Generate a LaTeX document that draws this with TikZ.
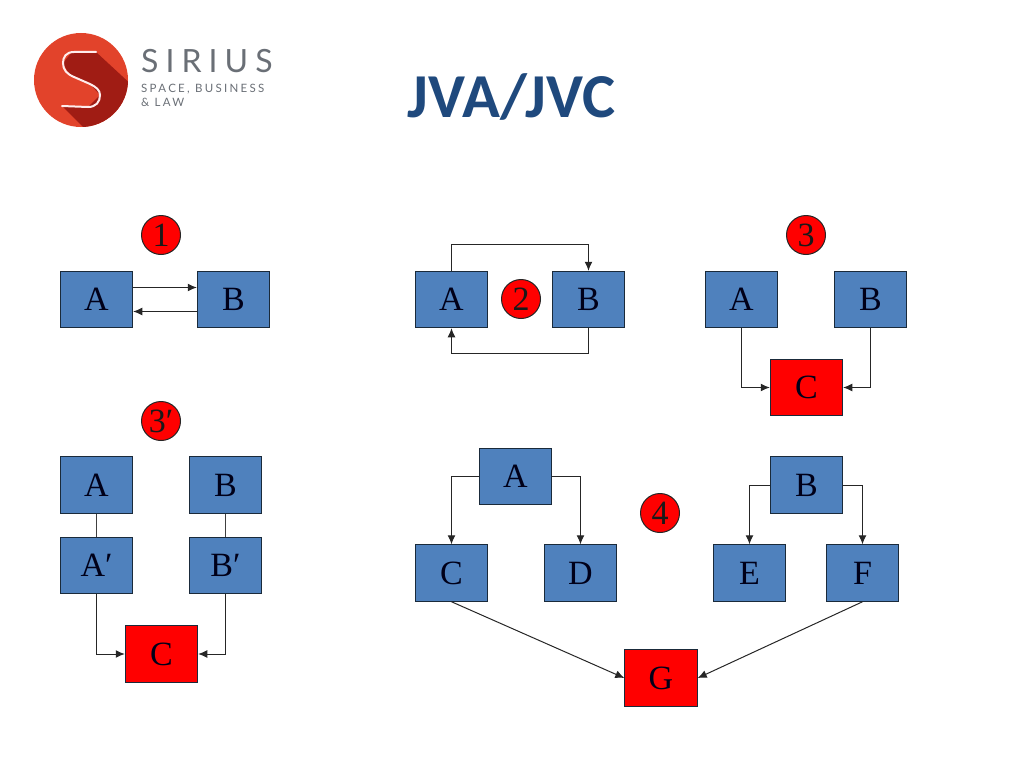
\documentclass[tikz,border=0pt]{standalone}
\usepackage{fontspec}
\setmainfont{Liberation Serif}
\newfontfamily\titlefont{Carlito}
\newfontfamily\logofont[LetterSpace=22]{Lato}
\newfontfamily\logosmall[LetterSpace=20]{Lato}
\usetikzlibrary{arrows.meta}
\definecolor{boxblue}{HTML}{4F81BD}
\definecolor{boxline}{HTML}{1A2A3A}
\definecolor{titleblue}{HTML}{1F497D}
\definecolor{logored}{HTML}{E2432B}
\definecolor{logodark}{HTML}{A01C14}
\definecolor{logogray}{HTML}{6A6F76}
\tikzset{
  x=1pt,y=-1pt,
  base/.style={draw=boxline,line width=1pt,minimum width=72.5pt,minimum height=56.5pt,inner sep=0pt,font=\fontsize{34}{34}\selectfont,text=black!90!blue},
  bluebox/.style={base,fill=boxblue},
  redbox/.style={base,fill=red},
  badge/.style={circle,draw=black!85,line width=1pt,fill=red,minimum size=39pt,inner sep=0pt,font=\fontsize{34}{34}\selectfont,text=black!90},
  conn/.style={draw=black!85,line width=1pt,-{Latex[length=9pt,width=8pt]}},
  plain/.style={draw=black!75,line width=1pt}
}
\begin{document}
\begin{tikzpicture}
\useasboundingbox (0,0) rectangle (1024,768);
% logo
\fill[logored] (81,80) circle[radius=47];
\begin{scope}
\clip (81,80) circle[radius=47];
\fill[logodark] (72,52) -- (96,52) -- (135,88) -- (135,135) -- (91,135) -- (62,106) -- (88,107) -- (100,95) -- (90,84) -- (70,76) -- (63,63) -- cycle;
\end{scope}
\draw[white!93!red,line width=2pt,line cap=round] (96,52) -- (74,52) .. controls (66,52) and (63,57) .. (63,63) .. controls (63,70) and (67,74) .. (74,77) -- (90,84) .. controls (96,87) and (100,90) .. (100,95) .. controls (100,102) and (96,107) .. (88,107) -- (62,106);
\node[anchor=west,inner sep=0pt,text=logogray,font=\logofont\fontsize{32}{32}\selectfont] (logoa) at (141,61) {SIRIUS};
\node[anchor=west,inner sep=0pt,text=logogray,font=\logosmall\fontsize{11.5}{12}\selectfont] (logob) at (141,89) {SPACE, BUSINESS};
\node[anchor=west,inner sep=0pt,text=logogray,font=\logosmall\fontsize{11.5}{12}\selectfont] (logoc) at (141,102) {\&\ LAW};
% title
\node[text=titleblue,inner sep=0pt,font=\titlefont\bfseries\fontsize{62.5}{62.5}\selectfont] (title) at (511.5,97) {JVA/JVC};
% group 1
\node[badge] (n1) at (161,235) {1};
\node[bluebox] (a1) at (96.5,299.5) {A};
\node[bluebox] (b1) at (233.5,299.5) {B};
\draw[conn] ([yshift=12pt]a1.east) -- ([yshift=12pt]b1.west);
\draw[conn] ([yshift=-12pt]b1.west) -- ([yshift=-12pt]a1.east);
% group 2
\node[badge] (n2) at (521,299) {2};
\node[bluebox] (a2) at (451.5,299.5) {A};
\node[bluebox] (b2) at (588.5,299.5) {B};
\draw[conn] (a2.north) -- ++(0,-26) -| (b2.north);
\draw[conn] (b2.south) -- ++(0,25) -| (a2.south);
% group 3
\node[badge] (n3) at (806,235) {3};
\node[bluebox] (a3) at (741.5,299.5) {A};
\node[bluebox] (b3) at (870.5,299.5) {B};
\node[redbox] (c3) at (806.5,387.5) {C};
\draw[conn] (a3.south) |- (c3.west);
\draw[conn] (b3.south) |- (c3.east);
% group 3'
\node[badge] (n3p) at (161,421) {3′};
\node[bluebox] (a3p) at (96.5,485) {A};
\node[bluebox] (b3p) at (225.5,485) {B};
\node[bluebox] (aa) at (96.5,565.5) {A′};
\node[bluebox] (bb) at (225.5,565.5) {B′};
\node[redbox] (c3p) at (161.5,654) {C};
\draw[plain] (a3p) -- (aa);
\draw[plain] (b3p) -- (bb);
\draw[conn] (aa.south) |- (c3p.west);
\draw[conn] (bb.south) |- (c3p.east);
% group 4
\node[badge] (n4) at (660,513) {4};
\node[bluebox] (a4) at (515.5,476.5) {A};
\node[bluebox] (b4) at (806.5,485) {B};
\node[bluebox] (c4) at (451.5,573) {C};
\node[bluebox] (d4) at (580.5,573) {D};
\node[bluebox] (e4) at (749.5,573) {E};
\node[bluebox] (f4) at (862.5,573) {F};
\node[redbox] (g4) at (661,678) {G};
\draw[conn] (a4.west) -| (c4.north);
\draw[conn] (a4.east) -| (d4.north);
\draw[conn] (b4.west) -| (e4.north);
\draw[conn] (b4.east) -| (f4.north);
\draw[conn] (c4.south) -- (g4.west);
\draw[conn] (f4.south) -- (g4.east);
\end{tikzpicture}
\end{document}
